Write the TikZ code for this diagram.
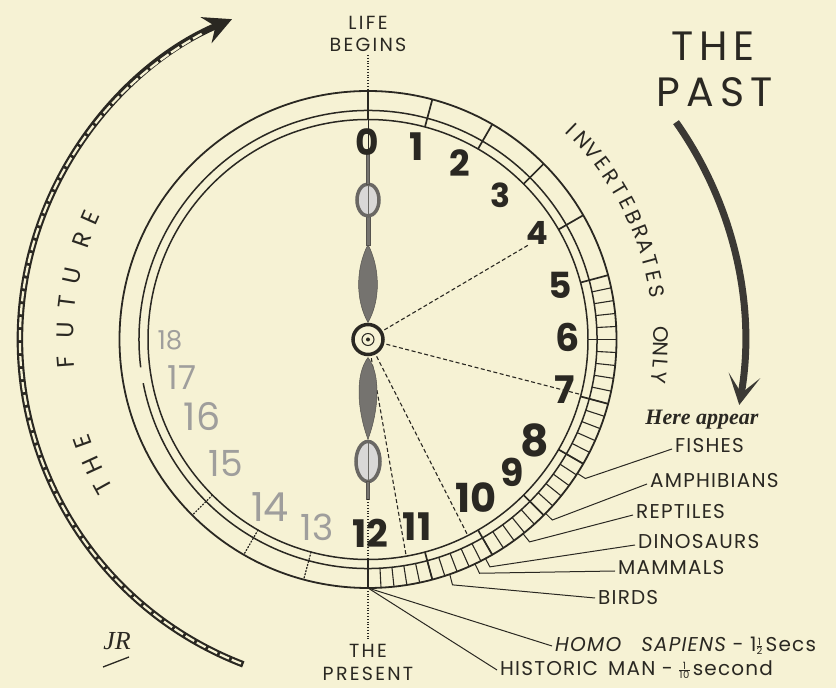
\documentclass[tikz,border=0pt]{standalone}
\usepackage{fontspec}
\setmainfont{Poppins}
\newfontfamily\herefont{Liberation Serif}
\usetikzlibrary{arrows.meta}
\definecolor{bg}{RGB}{246,242,212}
\definecolor{ink}{RGB}{42,40,34}
\newcommand\myfrac[2]{\ensuremath{\vcenter{\hbox{\fontsize{10}{10}\selectfont\oalign{\hfil#1\hfil\cr\noalign{\kern0.6pt\hrule height 0.7pt\kern0.8pt}\hfil#2\hfil\cr}}}}}
\tikzset{
  ringline/.style={draw=ink, line width=1.5pt},
  hourtick/.style={draw=ink, line width=1.7pt},
  boxtick/.style={draw=ink, line width=1.1pt},
  dottick/.style={draw=ink, line width=1.3pt, dash pattern=on 1.2pt off 2pt, line cap=round},
  dashline/.style={draw=ink, line width=1.1pt, dash pattern=on 4pt off 2.5pt},
  dotline/.style={draw=ink, line width=1.1pt, dash pattern=on 1pt off 1.8pt},
  leader/.style={draw=ink, line width=1pt},
  lbl/.style={inner xsep=3pt, inner ysep=0pt, anchor=west, text=ink, font=\fontsize{20}{21}\selectfont\addfontfeatures{LetterSpace=6}},
  ctrlbl/.style={inner sep=0pt, text=ink, font=\fontsize{19}{20}\selectfont\addfontfeatures{LetterSpace=12}},
  pastlbl/.style={inner sep=0pt, text=ink, font=\fontsize{41}{42}\selectfont\addfontfeatures{LetterSpace=15}},
  hnum/.style={inner sep=0pt, text=ink, font=\fontsize{#1}{#1}\selectfont\bfseries},
  fnum/.style={inner sep=0pt, text=ink!45, font=\fontsize{#1}{#1}\selectfont},
  arcl/.style={inner sep=0pt, text=ink, font=\fontsize{21}{22}\selectfont},
  handfill/.style={fill=ink!65, draw=ink!80, line width=0.5pt},
  bulb/.style={draw=ink!70, line width=3.5pt, fill=ink!18},
}
\begin{document}
\begin{tikzpicture}[x=1pt,y=1pt]
\useasboundingbox (0,0) rectangle (836,688);
\fill[bg] (0,0) rectangle (836,688);

\begin{scope}[shift={(368,348.5)}]
  % rings
  \draw[ringline, line width=1.8pt] (0,0) circle[radius=248.5pt];
  \draw[ringline] (191:229pt) arc[start angle=191, end angle=547, radius=229pt];
  \draw[ringline] (0,0) circle[radius=220pt];
  % hour ticks
  \foreach \h in {0,...,12} \draw[hourtick] ({90-15*\h}:220pt) -- ({90-15*\h}:248.5pt);
  \foreach \a in {12,9,...,-87} \draw[boxtick] (\a:229pt) -- (\a:248.5pt);
  \foreach \a in {-105,-120,-135} \draw[dottick] (\a:220pt) -- (\a:248.5pt);
  % key points
  \coordinate (P0) at (90:248.5pt);
  \coordinate (P12) at (-90:248.5pt);
  \coordinate (fK) at (-32.6:258pt);  \coordinate (fE) at (-32.6:248.5pt);
  \coordinate (aK) at (-44.4:258pt);  \coordinate (aE) at (-44.4:248.5pt);
  \coordinate (rK) at (-51.4:259pt);  \coordinate (rE) at (-51.4:248.5pt);
  \coordinate (dK) at (-61.8:258pt);  \coordinate (dE) at (-61.8:248.5pt);
  \coordinate (mK) at (-64.5:259pt);  \coordinate (mE) at (-64.5:248.5pt);
  \coordinate (bK) at (-71:259.5pt);  \coordinate (bE) at (-70.8:248.5pt);
  % dashed radii
  \draw[dashline] (30.5:19pt) -- (30.5:188pt);
  \draw[dashline] (-14.5:19pt) -- (-14.5:218pt);
  \draw[dashline] (-63:19pt) -- (-63:220pt);
  \draw[dashline] (-80:19pt) -- (-80:220pt);
  % hands
  \fill[handfill] (0,17) .. controls (13,40) and (12,72) .. (0,95) .. controls (-12,72) and (-13,40) .. (0,17);
  \fill[handfill] (-1.8,94) rectangle (1.8,124);
  \draw[bulb] (0,139.5) ellipse[x radius=11pt, y radius=16pt];
  \draw[ink!70, line width=1pt] (0,124) -- (0,155);
  \fill[handfill] (-1.6,155) rectangle (1.6,186);
  \draw[ink, line width=1pt] (0,186) -- (0,220);
  \fill[handfill] (0,-18) .. controls (13,-35) and (11,-70) .. (0,-100) .. controls (-11,-70) and (-13,-35) .. (0,-18);
  \draw[bulb] (0,-122) ellipse[x radius=12pt, y radius=20pt];
  \draw[ink!70, line width=1pt] (0,-102) -- (0,-142);
  \fill[handfill] (-1.6,-142) rectangle (1.6,-160);
  \draw[dotline] (0,-160) -- (0,-220);
  % centre boss
  \draw[ink, line width=3.5pt, fill=bg] (0,0) circle[radius=15pt];
  \draw[ink, line width=1pt] (0,0) circle[radius=6pt];
  \fill[ink] (0,0) circle[radius=2pt];
  % future arrow
  \draw[ink, line width=6.5pt, -{Stealth[length=28pt,width=28pt,inset=10pt]}] (249:348pt) arc[start angle=249, end angle=113, radius=348pt];
  \draw[bg, line width=2.2pt, dash pattern=on 10pt off 3pt] (248.6:348pt) arc[start angle=248.6, end angle=118.5, radius=348pt];
  % past arrow
  \draw[ink!92, line width=7pt, -{Stealth[length=30pt,width=32pt,inset=18pt]}] (35.2:377pt) arc[start angle=35.2, end angle=-10, radius=377pt];
  % invertebrates only
  \foreach \a/\t [count=\i] in {46/I,42.95/N,39.9/V,36.85/E,33.8/R,30.75/T,27.7/E,24.65/B,21.6/R,18.55/A,15.5/T,12.45/E,9.4/S,0.9/O,-1.9/N,-4.7/L,-7.5/Y}
    \node[arcl, rotate=\a-90] (inv\i) at (\a:293pt) {\t};
  % the future
  \foreach \a/\t [count=\i] in {209/T,204.6/H,199.7/E,184.3/F,178.3/U,172.9/T,167.8/U,160.9/R,156.2/E}
    \node[arcl, font=\fontsize{24}{25}\selectfont, rotate=\a-90] (fut\i) at (\a:303pt) {\t};
\end{scope}

% numbers
\node[hnum=36] (n0) at (367,546) {0};
\node[hnum=38] (n1) at (417,541) {1};
\node[hnum=36] (n2) at (460,525) {2};
\node[hnum=33] (n3) at (500,493) {3};
\node[hnum=32] (n4) at (537,455) {4};
\node[hnum=36] (n5) at (560,403) {5};
\node[hnum=38] (n6) at (568,351) {6};
\node[hnum=38] (n7) at (565,298) {7};
\node[hnum=44] (n8) at (535,248) {8};
\node[hnum=38] (n9) at (512,216) {9};
\node[hnum=40] (n10) at (476,190) {10};
\node[hnum=38] (n11) at (417,161) {11};
\node[hnum=38] (n12) at (370,155) {12};
\node[fnum=36] (n13) at (317,161) {13};
\node[fnum=40] (n14) at (270,181) {14};
\node[fnum=36] (n15) at (226,224) {15};
\node[fnum=38] (n16) at (202,271) {16};
\node[fnum=33] (n17) at (182,310) {17};
\node[fnum=26] (n18) at (170,348) {18};

% top and bottom captions
\node[ctrlbl] (life) at (368,665) {LIFE};
\node[ctrlbl] (begins) at (368,643) {BEGINS};
\draw[dotline] ([yshift=-3pt]begins.south) -- (P0);
\node[ctrlbl] (thep) at (368,37) {THE};
\node[ctrlbl] (present) at (368,14) {PRESENT};
\draw[dotline] (P12) -- ([yshift=3pt]thep.north);

\node[pastlbl] (pthe) at (713,642) {THE};
\node[pastlbl] (ppast) at (715,596) {PAST};

% species labels
\node[inner sep=0pt, text=ink, font=\herefont\bfseries\itshape\fontsize{22}{23}\selectfont] (here) at (702,268) {Here appear};
\node[lbl] (fishes) at (672,242) {FISHES};
\node[lbl] (amph) at (647,207) {AMPHIBIANS};
\node[lbl] (rept) at (633,176) {REPTILES};
\node[lbl] (dino) at (635,146) {DINOSAURS};
\node[lbl] (mamm) at (615,120) {MAMMALS};
\node[lbl] (birds) at (595,90) {BIRDS};
\node[lbl] (homo) at (552,42) {{\itshape HOMO\quad SAPIENS} - 1\myfrac{1}{2}\,Secs};
\node[lbl] (hist) at (497,18) {HISTORIC\enspace MAN - \myfrac{1}{10}\,second};

\draw[leader] ([yshift=-3pt]fishes.west) -- (fK) -- (fE);
\draw[leader] ([yshift=-3pt]amph.west) -- (aK) -- (aE);
\draw[leader] ([yshift=-3pt]rept.west) -- (rK) -- (rE);
\draw[leader] ([yshift=-3pt]dino.west) -- (dK) -- (dE);
\draw[leader] ([yshift=-3pt]mamm.west) -- (mK) -- (mE);
\draw[leader] (birds.west) -- (bK) -- (bE);
\draw[leader] (homo.west) -- (P12);
\draw[leader] (hist.west) -- (P12);

% signature
\node[inner sep=0pt, text=ink, font=\herefont\itshape\fontsize{26}{26}\selectfont] (sig) at (117,47) {JR};
\coordinate (sigA) at (103,21);
\coordinate (sigB) at (129,31);
\draw[ink, line width=1.3pt] (sigA) -- (sigB);
\end{tikzpicture}
\end{document}
